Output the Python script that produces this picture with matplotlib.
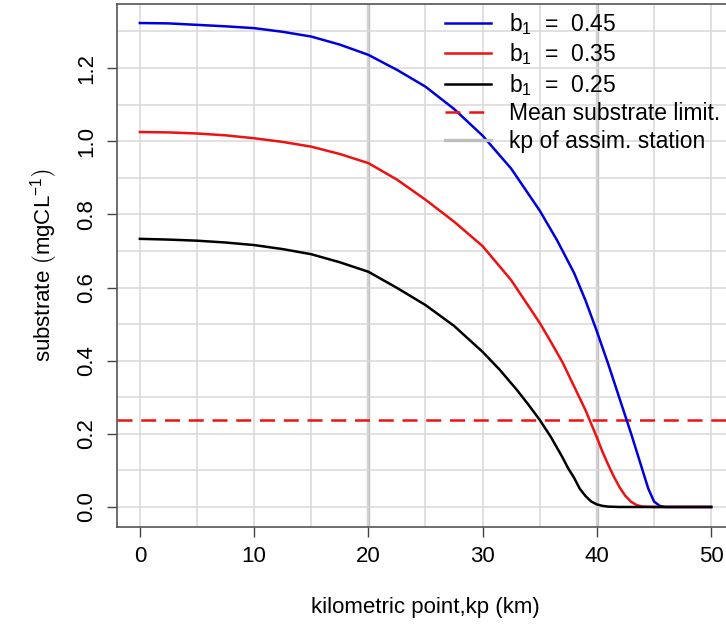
import matplotlib
matplotlib.use("Agg")
from matplotlib import pyplot as plt

# 字体 (R 默认 Helvetica 风格)
plt.rcParams['font.family'] = ['Liberation Sans', 'DejaVu Sans']
plt.rcParams['mathtext.fontset'] = 'custom'
plt.rcParams['mathtext.rm'] = 'Liberation Sans'
plt.rcParams['mathtext.it'] = 'Liberation Sans:italic'

# data
kp_blue = [0, 2.5, 5, 7.5, 10, 12.5, 15, 17.5, 20, 22.5, 25, 27.5, 30, 32.5, 35, 36.5,
           38, 39, 40, 41, 42, 43, 44, 44.5, 45, 45.5, 46, 50]
s_blue = [1.323, 1.322, 1.318, 1.314, 1.309, 1.299, 1.286, 1.264, 1.236, 1.195, 1.149,
          1.088, 1.015, 0.925, 0.81, 0.73, 0.64, 0.565, 0.48, 0.39, 0.295, 0.20, 0.10,
          0.05, 0.015, 0.003, 0.0, 0.0]

kp_red = [0, 2.5, 5, 7.5, 10, 12.5, 15, 17.5, 20, 22.5, 25, 27.5, 30, 32.5, 34, 35, 36,
          37, 38, 39, 40, 40.5, 41, 41.5, 42, 42.5, 43, 43.5, 44, 45, 50]
s_red = [1.025, 1.024, 1.021, 1.016, 1.008, 0.998, 0.985, 0.965, 0.940, 0.895, 0.84,
         0.78, 0.713, 0.62, 0.55, 0.503, 0.45, 0.395, 0.33, 0.265, 0.19, 0.15, 0.115,
         0.082, 0.053, 0.03, 0.014, 0.005, 0.001, 0.0, 0.0]

kp_black = [0, 2.5, 5, 7.5, 10, 12.5, 15, 17.5, 20, 22.5, 25, 27.5, 30, 31.5, 33, 34,
            35, 36, 37, 37.5, 38, 38.5, 39, 39.5, 40, 40.5, 41, 42, 50]
s_black = [0.733, 0.731, 0.728, 0.723, 0.716, 0.705, 0.691, 0.669, 0.643, 0.599, 0.552,
           0.495, 0.424, 0.375, 0.32, 0.28, 0.238, 0.19, 0.135, 0.105, 0.08, 0.05, 0.03,
           0.015, 0.007, 0.003, 0.001, 0.0, 0.0]

mean_limit = 0.238
station_kp = [20, 40]

fig = plt.figure(figsize=(7.26, 6.25), dpi=100)
ax = fig.add_axes([117 / 726, 1 - 527 / 625, (734 - 117) / 726, (527 - 4) / 625])

# 网格
ax.set_xticks([i * 5 for i in range(11)], minor=True)
ax.set_yticks([i * 0.1 for i in range(14)], minor=True)
ax.grid(True, which='both', color='#d9d9d9', lw=1.1, zorder=0)
ax.tick_params(which='minor', length=0)

for k in station_kp:
    ax.axvline(k, color='#bebebe', lw=2.4, zorder=1)

ax.plot(kp_blue, s_blue, color='#0000dd', lw=1.8, label=r'b$_1$  =  0.45', zorder=3)
ax.plot(kp_red, s_red, color='#ee1111', lw=1.8, label=r'b$_1$  =  0.35', zorder=3)
ax.plot(kp_black, s_black, color='black', lw=1.8, label=r'b$_1$  =  0.25', zorder=3)
ax.axhline(mean_limit, color='#ee1111', lw=1.8, ls=(0, (6, 3.5)), zorder=2,
           label='Mean substrate limit.')
ax.plot([], [], color='#bebebe', lw=2.4, label='kp of assim. station')

ax.set_xlim(-2, 52)
ax.set_ylim(-0.0547, 1.375)
ax.set_xticks([0, 10, 20, 30, 40, 50])
ax.set_yticks([0.0, 0.2, 0.4, 0.6, 0.8, 1.0, 1.2])
ax.set_yticklabels(['0.0', '0.2', '0.4', '0.6', '0.8', '1.0', '1.2'], rotation=90, va='center')
ax.tick_params(which='major', direction='out', length=7, width=1, color='#444444',
               labelsize=16, pad=7)

for s in ax.spines.values():
    s.set_color('#555555')
    s.set_linewidth(1.2)

ax.set_xlabel('kilometric point,kp (km)', fontsize=16, labelpad=21)
ax.set_ylabel(r'substrate $\left(\mathrm{mgCL}^{-1}_{\;}\right)$', fontsize=16, labelpad=12)

fig.legend(loc='upper left', bbox_to_anchor=(445 / 726, 1 - 11 / 625), frameon=False,
           fontsize=16.5, handlelength=2.0, handletextpad=0.8, labelspacing=0.2,
           borderpad=0, borderaxespad=0)

plt.savefig('out.png', dpi=100)
